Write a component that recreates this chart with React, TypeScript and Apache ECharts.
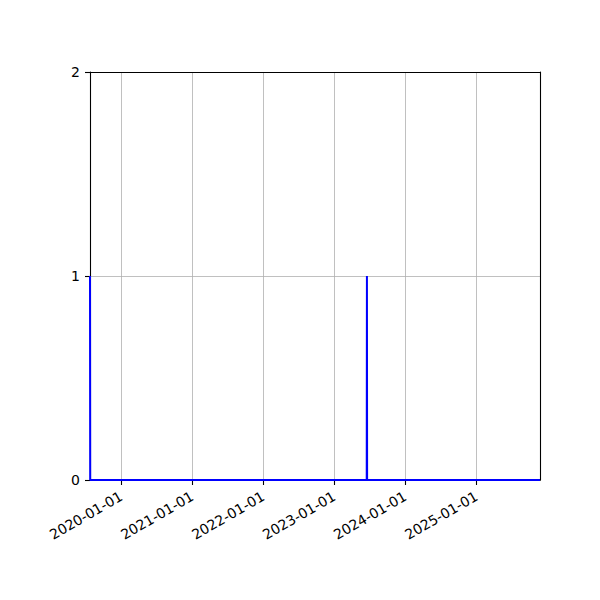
import React, { useEffect, useRef } from "react";
import * as echarts from "echarts";

// Series (time, value)
const dates: string[] = [
  "2019-07-25",
  "2019-07-26",
  "2023-06-17",
  "2023-06-18",
  "2023-06-19",
  "2025-11-24",
];
const values: number[] = [1, 0, 0, 1, 0, 0];

const xMin = "2019-07-25";
const xMax = "2025-11-24";
const yTicks: number[] = [0, 1, 2];

const DAY = 24 * 3600 * 1000;
const ts = (d: string) => new Date(d + "T00:00:00Z").getTime();

export default function App() {
  const ref = useRef<HTMLDivElement>(null);
  useEffect(() => {
    if (!ref.current) return;
    const chart = echarts.init(ref.current, undefined, { renderer: "svg" });
    const font = "DejaVu Sans";
    const frameLine = { show: true, lineStyle: { color: "#000", width: 1.1 } };
    chart.setOption({
      animation: false,
      backgroundColor: "#ffffff",
      grid: {
        left: 90,
        right: 60,
        top: 72,
        bottom: 120,
      },
      xAxis: [
        {
          type: "time",
          min: ts(xMin),
          max: ts(xMax),
          minInterval: 365 * DAY,
          maxInterval: 366 * DAY,
          axisLine: frameLine,
          axisTick: { show: true, length: 5, lineStyle: { color: "#000", width: 1.1 } },
          minorTick: { show: false },
          splitLine: { show: true, lineStyle: { color: "#b0b0b0", width: 0.8 } },
          axisLabel: {
            rotate: 30,
            margin: 15,
            fontFamily: font,
            fontSize: 14,
            color: "#000",
            showMinLabel: false,
            showMaxLabel: false,
            formatter: (v: number) => {
              const d = new Date(v);
              const y = d.getUTCFullYear();
              const m = String(d.getUTCMonth() + 1).padStart(2, "0");
              const dd = String(d.getUTCDate()).padStart(2, "0");
              return `${y}-${m}-${dd}`;
            },
          },
          z: 1,
        },
        {
          type: "time",
          position: "top",
          min: ts(xMin),
          max: ts(xMax),
          axisLine: { ...frameLine, onZero: false },
          axisTick: { show: false },
          axisLabel: { show: false },
          splitLine: { show: false },
          z: 5,
        },
      ],
      yAxis: [
        {
          type: "value",
          min: yTicks[0],
          max: yTicks[yTicks.length - 1],
          interval: 1,
          axisLine: frameLine,
          axisTick: { show: true, length: 5, lineStyle: { color: "#000", width: 1.1 } },
          splitLine: { show: true, lineStyle: { color: "#b0b0b0", width: 0.8 } },
          axisLabel: {
            margin: 10,
            fontFamily: font,
            fontSize: 14,
            color: "#000",
          },
          z: 1,
        },
        {
          type: "value",
          position: "right",
          min: yTicks[0],
          max: yTicks[yTicks.length - 1],
          interval: 1,
          axisLine: { ...frameLine, onZero: false },
          axisTick: { show: false },
          axisLabel: { show: false },
          splitLine: { show: false },
          z: 5,
        },
      ],
      series: [
        {
          type: "line",
          xAxisIndex: 0,
          yAxisIndex: 0,
          data: dates.map((d, i) => [ts(d), values[i]]),
          showSymbol: false,
          symbol: "none",
          lineStyle: { color: "#0000ff", width: 2 },
          clip: true,
          z: 3,
        },
      ],
    });
    return () => chart.dispose();
  }, []);
  return (
    <div
      ref={ref}
      style={{ position: "fixed", left: 0, top: 0, width: 600, height: 600 }}
    />
  );
}
